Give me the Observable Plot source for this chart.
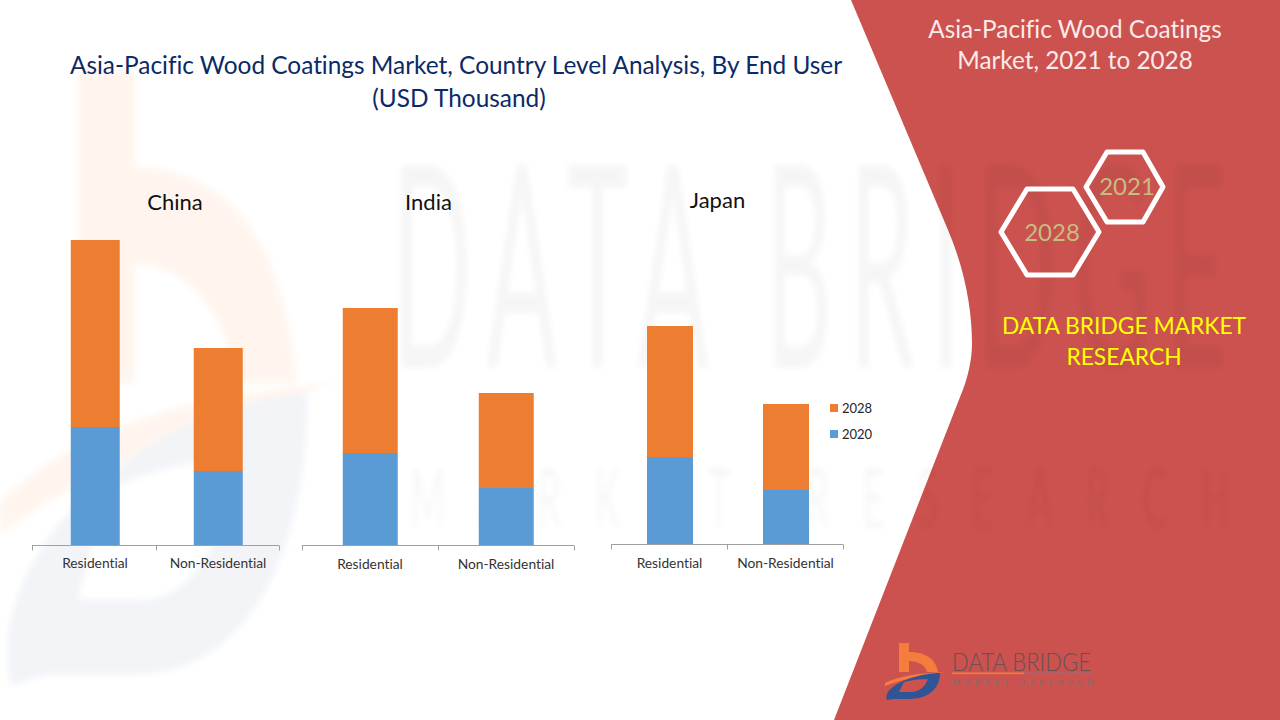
<!DOCTYPE html>
<html><head><meta charset="utf-8">
<script src="https://cdn.jsdelivr.net/npm/d3@7"></script>
<script src="https://cdn.jsdelivr.net/npm/@observablehq/plot@0.6"></script>
<style>
html,body{margin:0;padding:0;background:#fff;}
body{width:1280px;height:720px;position:relative;overflow:hidden;font-family:Lato,"Open Sans",sans-serif;font-variant-ligatures:none;}
svg text{font-variant-ligatures:none;}
#bg{position:absolute;left:0;top:0;}
.t{position:absolute;text-align:center;white-space:nowrap;transform:translate(-50%,-50%);}
.chart{position:absolute;}
.chart svg{background:transparent;display:block;overflow:visible;}
.sw{position:absolute;width:8px;height:8px;}
.lg{position:absolute;font:13px Lato,sans-serif;color:#262626;transform:translateY(-50%);}
</style></head><body>
<svg id="bg" width="1280" height="720" viewBox="0 0 1280 720" xmlns="http://www.w3.org/2000/svg">
  <defs>
    <filter id="blur" x="-10%" y="-10%" width="120%" height="120%"><feGaussianBlur stdDeviation="3"/></filter>
    <g id="logoB"><path d="M15 0H25V9C42 9 52 16 54 29H43C42 23 35 18 25 18V29H15Z"/></g>
    <g id="logoS"><path d="M1 40C15 33 35 30 61 29C40 32 20 36 1 43Z"/></g>
    <g id="logoD"><path fill-rule="evenodd" d="M3 57C0 50 8 42 24 36C35 32 48 30 56 30C56 45 45 56 25 56H11C7 56 5 57 3 57ZM20 39L15 49H27C35 49 41 44 44 36C36 36 28 37 20 39Z"/></g>
  </defs>
  <rect width="1280" height="720" fill="#fff"/>
  <g filter="url(#blur)">
    <g transform="translate(-6 70) scale(5.6 10.8)">
      <use href="#logoB" fill="#FFF5EE"/><use href="#logoS" fill="#FFF5EE"/><use href="#logoD" fill="#F2F4F8"/>
    </g>
  </g>
  <path id="panel" d="M851 0L948 230C965 270 972 310 972 343C972 360 968 378 960 397L834 720H1280V0Z" fill="#CB524F"/>
  <g filter="url(#blur)" fill="#000" opacity=".035" font-family="Lato,sans-serif">
    <text transform="translate(392 368) scale(1 2.7)" font-size="105" font-weight="400" textLength="835">DATA BRIDGE</text>
    <text transform="translate(410 528) scale(1 2.2)" font-size="38" font-weight="400" textLength="820">MARKET RESEARCH</text>
  </g>
  <g fill="none" stroke="#fff" stroke-width="5" stroke-linejoin="round">
    <path d="M1086 187L1107 152H1143L1163 187L1143 222H1107Z"/>
    <path d="M1001 232L1027 189H1073L1099 232L1073 275H1027Z"/>
  </g>
  <g font-family="Lato,sans-serif" font-size="24" fill="#C5BE80" text-anchor="middle">
    <text x="1127" y="195">2021</text>
    <text x="1052" y="241">2028</text>
  </g>
  <g transform="translate(884 643)">
    <use href="#logoB" fill="#F47C3C"/><use href="#logoS" fill="#F47C3C"/><use href="#logoD" fill="#2F5597"/>
  </g>
  <text x="952" y="671" font-family="Lato,sans-serif" font-weight="300" font-size="26" fill="#6a5050" textLength="139" lengthAdjust="spacingAndGlyphs">DATA BRIDGE</text>
  <rect x="952" y="672.5" width="72" height="1.6" fill="#F47C3C"/>
  <rect x="1024" y="672.5" width="70" height="1.6" fill="#9a6a80"/>
  <text x="953" y="685" font-family="Lato,sans-serif" font-weight="700" font-size="7.5" fill="#8a6a6a" textLength="140">MARKET RESEARCH</text>
</svg>

<div class="t" id="title" style="left:456px;top:80.5px;font-size:24.4px;color:#0B2A66;line-height:33px;">Asia-Pacific Wood Coatings Market, Country Level Analysis, By End User<br><span style="position:relative;left:3px">(USD Thousand)</span></div>
<div class="t" style="left:1075px;top:44px;font-size:24.3px;color:#FBEAE8;line-height:31px;">Asia-Pacific Wood Coatings<br>Market, 2021 to 2028</div>
<div class="t" style="left:1123.5px;top:340px;font-size:24px;color:#FFFF00;line-height:31px;transform:translate(-50%,-50%) scaleX(.95);">DATA BRIDGE MARKET<br>RESEARCH</div>

<div class="chart" id="china" style="left:31px;top:180px"></div>
<div class="chart" id="india" style="left:301px;top:180px"></div>
<div class="chart" id="japan" style="left:610px;top:179px"></div>

<div class="sw" style="left:830px;top:404px;background:#ED7D31"></div>
<div class="lg" style="left:842px;top:408px">2028</div>
<div class="sw" style="left:830px;top:430px;background:#5B9BD5"></div>
<div class="lg" style="left:842px;top:434px">2020</div>

<script>
const endUsers = ["Residential", "Non-Residential"];
const years = ["2020", "2028"];
const colors = ["#5B9BD5", "#ED7D31"];
const china2020 = [118, 74];
const china2028 = [187, 123];
const india2020 = [92, 57];
const india2028 = [145, 95];
const japan2020 = [87, 54];
const japan2028 = [131, 86];

function rows(a, b) {
  return endUsers.flatMap((u, i) => [
    {user: u, year: years[0], value: a[i]},
    {user: u, year: years[1], value: b[i]}
  ]);
}

function axisLine(index, {x}, values, dim) {
  const y = dim.height - dim.marginBottom + 0.5;
  const mid = (x(endUsers[0]) + x.bandwidth() + x(endUsers[1])) / 2;
  const xs = [dim.marginLeft, mid, dim.width - dim.marginRight];
  const g = d3.create("svg:g").attr("stroke", "#a0a0a0").attr("fill", "none");
  g.append("line").attr("x1", xs[0]).attr("x2", xs[2]).attr("y1", y).attr("y2", y);
  g.selectAll("path").data(xs).join("path").attr("d", d => `M${Math.round(d) + 0.5},${y}v5`);
  return g.node();
}

function chart(id, name, a, b, w, p, barDx, titleDx, titleDy, tickPad) {
  const el = Plot.plot({
    width: w + 2,
    height: 400,
    marginTop: 45,
    marginBottom: 35,
    marginLeft: 1,
    marginRight: 1,
    style: {background: "transparent", fontFamily: "Lato, sans-serif"},
    x: {domain: endUsers, paddingInner: p, paddingOuter: p / 2, axis: null},
    y: {domain: [0, 320], axis: null},
    color: {domain: years, range: colors},
    marks: [
      Plot.barY(rows(a, b), {x: "user", y: "value", fill: "year", dx: barDx}),
      axisLine,
      Plot.axisX({tickSize: 0, tickPadding: tickPad, fontSize: 13.8, label: null, fill: "#333", anchor: "bottom"}),
      Plot.text([name], {frameAnchor: "top", dx: titleDx, dy: titleDy, fontSize: 22, fill: "#111", text: d => d})
    ]
  });
  document.getElementById(id).appendChild(el);
}

chart("china", "China", china2020, china2028, 247, 0.603, 0.75, 19, -31, 13);
chart("india", "India", india2020, india2028, 272, 0.595, 0.75, -10, -31, 14);
chart("japan", "Japan", japan2020, japan2028, 232, 0.603, 1, -10, -32, 14);
</script>
</body></html>
